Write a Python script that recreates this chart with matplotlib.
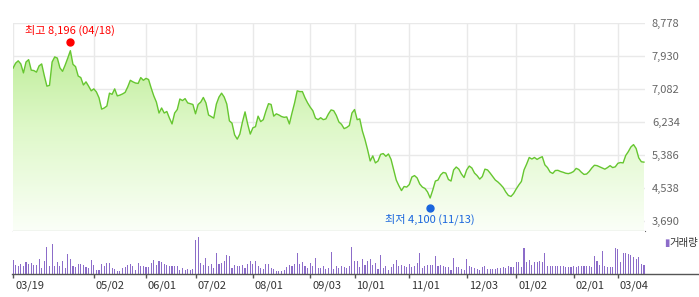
import numpy as np
import pandas as pd
import matplotlib
matplotlib.use("Agg")
import matplotlib.pyplot as plt
from matplotlib.colors import LinearSegmentedColormap
from matplotlib.lines import Line2D
from matplotlib import transforms

plt.rcParams['font.family'] = ['Noto Sans CJK KR', 'DejaVu Sans']

# trading days (KRX holidays removed)
holidays = ['2018-05-01', '2018-05-07', '2018-05-22', '2018-06-06', '2018-06-13',
            '2018-08-15', '2018-09-24', '2018-09-25', '2018-09-26', '2018-10-03',
            '2018-10-09', '2018-12-25', '2018-12-31', '2019-01-01', '2019-02-04',
            '2019-02-05', '2019-02-06', '2019-03-01']
dates = pd.bdate_range('2018-03-19', '2019-03-18', freq='C', holidays=holidays)

# daily close (won)
price = [
    7610, 7740, 7800, 7720, 7490, 7770, 7830, 7560, 7550, 7510,
    7670, 7720, 7420, 7150, 7170, 7770, 7900, 7870, 7620, 7530,
    7690, 7870, 8060, 7710, 7650, 7410, 7370, 7180, 7260, 7150,
    7030, 7080, 7000, 6850, 6560, 6590, 6640, 6970, 6940, 7080,
    6900, 6920, 6950, 6990, 7130, 7300, 7260, 7230, 7220, 7370,
    7300, 7350, 7320, 7100, 6900, 6740, 6460, 6590, 6460, 6500,
    6330, 6180, 6460, 6550, 6820, 6780, 6830, 6720, 6700, 6680,
    6440, 6680, 6740, 6860, 6720, 6410, 6370, 6330, 6690, 6870,
    6970, 6870, 6690, 6260, 6200, 5900, 5790, 5920, 6230, 6490,
    6180, 5920, 6080, 6110, 6380, 6240, 6290, 6510, 6700, 6680,
    6380, 6440, 6410, 6370, 6350, 6360, 6180, 6460, 6720, 7030,
    7010, 7010, 6850, 6720, 6610, 6520, 6330, 6290, 6340, 6290,
    6310, 6440, 6540, 6520, 6400, 6230, 6170, 6060, 6090, 6140,
    6460, 6550, 6290, 6310, 6000, 5780, 5520, 5230, 5360, 5180,
    5230, 5400, 5420, 5350, 5410, 5270, 5010, 4740, 4595, 4470,
    4575, 4560, 4625, 4820, 4855, 4795, 4640, 4560, 4525, 4435,
    4280, 4485, 4715, 4740, 4870, 4935, 4920, 4755, 4715, 5000,
    5075, 5020, 4895, 4805, 5000, 5100, 5050, 4920, 4855, 4765,
    4830, 5020, 5000, 4920, 4830, 4740, 4690, 4625, 4550, 4435,
    4345, 4320, 4395, 4510, 4615, 4705, 5000, 5150, 5320, 5280,
    5320, 5270, 5310, 5340, 5130, 5060, 4945, 4910, 4985, 4990,
    4960, 4940, 4915, 4905, 4925, 4960, 5040, 5010, 4940, 4885,
    4895, 4960, 5050, 5120, 5110, 5080, 5050, 5020, 5060, 5110,
    5060, 5080, 5170, 5190, 5180, 5370, 5470, 5590, 5650, 5550,
    5310, 5210, 5200,
]

# daily volume (thousand shares)
volume = [
    1430, 930, 770, 1000, 830, 1200, 1030, 1100, 930, 900,
    1530, 600, 1330, 2670, 830, 3030, 770, 1170, 770, 1270,
    600, 2030, 1530, 830, 670, 1000, 1030, 870, 700, 600,
    1430, 870, 430, 430, 1000, 770, 1100, 1100, 600, 500,
    330, 270, 600, 670, 930, 1000, 830, 430, 1100, 830,
    770, 700, 670, 1100, 1430, 930, 1330, 1200, 1000, 930,
    830, 770, 830, 830, 430, 600, 430, 500, 430, 530,
    3430, 3670, 1100, 930, 1600, 770, 1000, 600, 2100, 1000,
    1100, 1270, 1870, 1770, 600, 930, 770, 770, 870, 600,
    1000, 1270, 1000, 1270, 830, 600, 500, 1000, 1000, 600,
    500, 330, 330, 330, 430, 670, 930, 770, 1000, 2100,
    1000, 1170, 770, 600, 1100, 830, 1600, 600, 600, 830,
    500, 600, 2170, 500, 770, 600, 830, 700, 600, 830,
    2730, 1330, 1270, 670, 1530, 870, 1330, 1530, 930, 1100,
    530, 1930, 600, 770, 430, 670, 1000, 1430, 770, 930,
    770, 670, 1000, 670, 770, 1100, 2130, 600, 770, 930,
    930, 930, 1830, 770, 870, 800, 670, 670, 430, 1600,
    670, 670, 530, 430, 1500, 770, 670, 600, 500, 430,
    670, 770, 530, 530, 530, 500, 600, 600, 670, 600,
    770, 670, 670, 1200, 1170, 670, 2600, 1170, 1430, 930,
    1200, 1200, 1270, 1200, 2100, 770, 770, 770, 770, 770,
    770, 830, 670, 670, 670, 770, 670, 770, 770, 770,
    770, 770, 670, 1830, 1270, 930, 2330, 770, 670, 670,
    670, 2600, 2500, 1200, 2100, 2100, 2030, 1870, 1670, 1530,
    1730, 1000, 870,
]

price_ticks = [3690, 4538, 5386, 6234, 7082, 7930, 8778]
high_value = 8196
low_value = 4100

x = np.arange(len(price))
ylo, yhi = 3433, 8778
xmax = len(price) - 1 + 0.4

W, H = 699, 297
fig = plt.figure(figsize=(W / 100, H / 100), dpi=100)

def box(left, top, right, bottom):
    return [left / W, 1 - bottom / H, (right - left) / W, (bottom - top) / H]

# --- price panel ---
ax = fig.add_axes(box(13, 22.7, 645, 231))
ax.set_xlim(0, xmax)
ax.set_ylim(ylo, yhi)

# month ticks: first trading day of each month, skip ones too close to the start
month_idx = [0]
for i in range(1, len(dates)):
    if dates[i].month != dates[i - 1].month and i - month_idx[-1] > 15:
        month_idx.append(i)
month_lbl = [dates[i].strftime('%m/%d') for i in month_idx]

for v in price_ticks:
    ax.axhline(v, color='#e9e9e9', lw=1, zorder=0)
for i in month_idx:
    ax.axvline(i, color='#e9e9e9', lw=1, zorder=0)

poly = ax.fill_between(x, price, ylo, color='none', lw=0)
cmap = LinearSegmentedColormap.from_list('g', ['#fbfff8', '#def8c8', '#b4e98a'])
grad = np.linspace(0, 1, 256).reshape(-1, 1)
im = ax.imshow(grad, cmap=cmap, aspect='auto', extent=[0, xmax, ylo, yhi],
               origin='lower', zorder=1, interpolation='bilinear')
im.set_clip_path(poly.get_paths()[0], transform=ax.transData)
ax.plot(x, price, color='#66c630', lw=1.0, zorder=3)

for s in ['top', 'left', 'right']:
    ax.spines[s].set_visible(False)
ax.spines['bottom'].set_color('#666666')
ax.set_xticks([])
ax.yaxis.tick_right()
ax.set_yticks(price_ticks)
ax.set_yticklabels([f'{v:,}' for v in price_ticks])
ax.tick_params(axis='y', length=0, pad=5, labelsize=8, labelcolor='#666666')

# high / low markers
hi_i = int(np.argmax(price))
lo_i = int(np.argmin(price))
up = transforms.offset_copy(ax.transData, fig=fig, y=3, units='dots')
dn = transforms.offset_copy(ax.transData, fig=fig, y=-3, units='dots')
ax.plot(hi_i, high_value, 'o', color='#ff0000', ms=5, transform=up, zorder=4, clip_on=False)
ax.plot(lo_i, low_value, 'o', color='#1a66dd', ms=5, transform=dn, zorder=4, clip_on=False)
ax.annotate(f'최고 {high_value:,} ({dates[hi_i].strftime("%m/%d")})', (hi_i, high_value),
            xytext=(0, 11), textcoords='offset points', ha='center', va='center',
            color='#ff0000', fontsize=8)
ax.annotate(f'최저 {low_value:,} ({dates[lo_i].strftime("%m/%d")})', (lo_i, low_value),
            xytext=(0, -10), textcoords='offset points', ha='center', va='center',
            color='#1a66dd', fontsize=8)

# --- volume panel ---
axv = fig.add_axes(box(13, 231, 645, 274))
axv.set_xlim(0, xmax)
axv.set_ylim(0, 4300)
axv.bar(x, volume, width=0.42, color='#8c6cc9', lw=0)
for s in ['top', 'left', 'right', 'bottom']:
    axv.spines[s].set_visible(False)
axv.set_yticks([])
axv.set_xticks(month_idx)
axv.set_xticklabels(month_lbl)
axv.tick_params(axis='x', direction='out', length=3, width=1, color='#555555',
                pad=2, labelsize=8, labelcolor='#333333')
shift = transforms.ScaledTranslation(2 / 100, 0, fig.dpi_scale_trans)
for lbl in axv.get_xticklabels():
    lbl.set_ha('left')
    lbl.set_transform(lbl.get_transform() + shift)

yb = 1 - 274 / H
fig.add_artist(Line2D([12 / W, 1], [yb, yb], transform=fig.transFigure, color='#555555', lw=1))

# legend
fig.text(664 / W, 1 - 243 / H, '▮', color='#8c6cc9', fontsize=7, va='center', ha='left',
         family=['DejaVu Sans'])
fig.text(669 / W, 1 - 243 / H, '거래량', color='#333333', fontsize=7.5, va='center', ha='left')

fig.savefig('out.png', dpi=100)
